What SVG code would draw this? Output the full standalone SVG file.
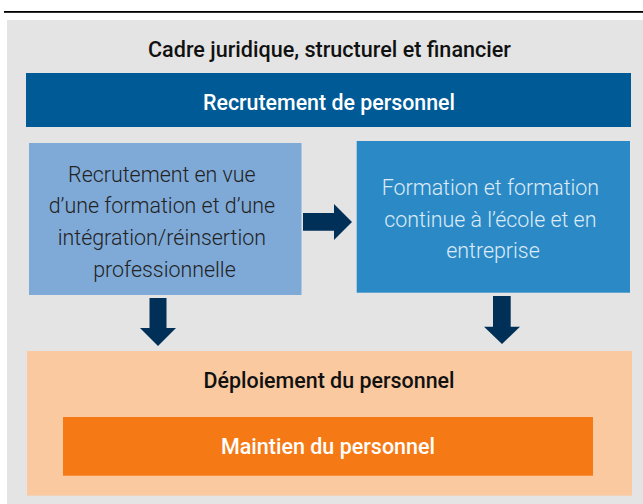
<svg xmlns="http://www.w3.org/2000/svg" width="643" height="504" viewBox="0 0 643 504">
<defs>
<style>
.h{font-family:Roboto,"Liberation Sans",sans-serif;font-weight:500;font-size:21.5px;text-anchor:middle}
.b{font-family:Roboto,"Liberation Sans",sans-serif;font-weight:300;font-size:21.4px;text-anchor:middle}
.arrow{fill:#003057}
</style>
</defs>
<rect x="0" y="0" width="643" height="504" fill="#ffffff"/>
<rect x="4" y="11" width="639" height="1.8" fill="#000000"/>
<g id="frame">
<rect x="7" y="20" width="636" height="484" fill="#E4E4E4"/>
<text class="h" x="329.5" y="57" fill="#111111" textLength="363" lengthAdjust="spacingAndGlyphs">Cadre juridique, structurel et financier</text>
</g>
<g id="recrutement">
<rect x="26" y="73" width="605" height="54" fill="#005A96"/>
<text class="h" x="329" y="109.5" fill="#ffffff" textLength="252" lengthAdjust="spacingAndGlyphs">Recrutement de personnel</text>
</g>
<g id="recrutement-vue">
<rect x="29" y="143" width="272.5" height="152" fill="#7FAAD8"/>
<text class="b" fill="#222222">
<tspan x="164.5" y="181.7">Recrutement en vue</tspan>
<tspan x="164.5" y="213.3">d’une formation et d’une</tspan>
<tspan x="164.5" y="245">intégration/réinsertion</tspan>
<tspan x="164.5" y="276.7">professionnelle</tspan>
</text>
</g>
<g id="formation">
<rect x="356.7" y="141" width="273.3" height="151.7" fill="#2B8AC6"/>
<text class="b" fill="#DDEBF7">
<tspan x="493" y="195">Formation et formation</tspan>
<tspan x="493" y="226.7">continue à l’école et en</tspan>
<tspan x="493" y="258.3">entreprise</tspan>
</text>
</g>
<g id="deploiement">
<rect x="27" y="351" width="605" height="144.7" fill="#FAC9A0"/>
<text class="h" x="329" y="388.3" fill="#111111" textLength="251" lengthAdjust="spacingAndGlyphs">Déploiement du personnel</text>
</g>
<g id="maintien">
<rect x="63" y="417" width="530" height="58.7" fill="#F57A16"/>
<text class="h" x="328" y="454.3" fill="#ffffff" textLength="214" lengthAdjust="spacingAndGlyphs">Maintien du personnel</text>
</g>
<g id="connectors">
<polygon class="arrow" points="303,213 334,213 334,204 352,222 334,240 334,230.7 303,230.7"/>
<polygon class="arrow" points="149.5,298 166.5,298 166.5,328 176,328 158,346 140,328 149.5,328"/>
<polygon class="arrow" points="493,296 510.7,296 510.7,326.7 520,326.7 502,344 484,326.7 493,326.7"/>
</g>
</svg>
